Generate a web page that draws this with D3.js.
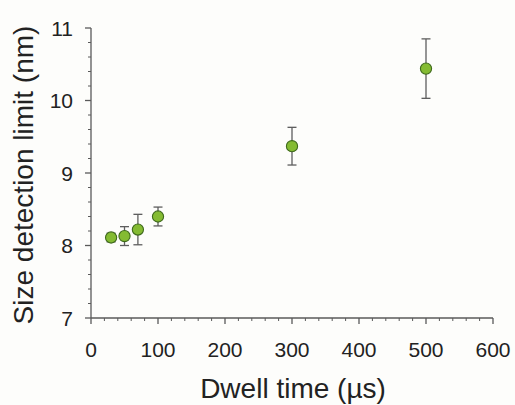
<!DOCTYPE html>
<html>
<head>
<meta charset="utf-8">
<script src="https://cdn.jsdelivr.net/npm/d3@7"></script>
<style>
  html, body { margin: 0; padding: 0; background: #fdfdfb; }
  svg { display: block; font-family: "Liberation Sans", Arial, sans-serif; }
</style>
</head>
<body>
<svg id="chart" width="515" height="405"></svg>
<script>
// Dwell time (µs) and measured size detection limit (nm) with error bars
const dwellTimes = [30, 50, 70, 100, 300, 500];
const detectionLimits = [8.11, 8.13, 8.22, 8.40, 9.37, 10.44];
const errors = [0.06, 0.13, 0.21, 0.13, 0.26, 0.41];

const xTickValues = [0, 100, 200, 300, 400, 500, 600];
const yTickValues = [7, 8, 9, 10, 11];

const svg = d3.select("#chart");
const axisColor = "#5a5a5a";

const x = d3.scaleLinear().domain([0, 600]).range([91, 493]);
const y = d3.scaleLinear().domain([7, 11]).range([318, 28]);

// minor ticks
const xMinor = d3.range(0, 601, 20).filter(v => v % 100 !== 0);
const yMinor = d3.range(7, 11.001, 0.2).filter(v => Math.abs(v - Math.round(v)) > 1e-6);

const gx = svg.append("g").attr("transform", `translate(0,${y(7)})`);
gx.append("line").attr("x1", x(0)).attr("x2", x(600)).attr("stroke", axisColor).attr("stroke-width", 1.3);
gx.selectAll("line.minor").data(xMinor).join("line").attr("class", "minor")
  .attr("x1", d => x(d)).attr("x2", d => x(d)).attr("y1", 0).attr("y2", 3)
  .attr("stroke", axisColor).attr("stroke-width", 1);
gx.selectAll("line.major").data(xTickValues).join("line").attr("class", "major")
  .attr("x1", d => x(d)).attr("x2", d => x(d)).attr("y1", 0).attr("y2", 6)
  .attr("stroke", axisColor).attr("stroke-width", 1.3);
gx.selectAll("text").data(xTickValues).join("text")
  .attr("x", d => x(d)).attr("y", 39)
  .attr("text-anchor", "middle").attr("font-size", 21).attr("fill", "#222")
  .text(d => d);

const gy = svg.append("g").attr("transform", `translate(${x(0)},0)`);
gy.append("line").attr("y1", y(7)).attr("y2", y(11)).attr("stroke", axisColor).attr("stroke-width", 1.3);
gy.selectAll("line.minor").data(yMinor).join("line").attr("class", "minor")
  .attr("y1", d => y(d)).attr("y2", d => y(d)).attr("x1", -3).attr("x2", 0)
  .attr("stroke", axisColor).attr("stroke-width", 1);
gy.selectAll("line.major").data(yTickValues).join("line").attr("class", "major")
  .attr("y1", d => y(d)).attr("y2", d => y(d)).attr("x1", -6).attr("x2", 0)
  .attr("stroke", axisColor).attr("stroke-width", 1.3);
gy.selectAll("text").data(yTickValues).join("text")
  .attr("x", -18).attr("y", d => y(d)).attr("dy", "0.36em")
  .attr("text-anchor", "end").attr("font-size", 21).attr("fill", "#222")
  .text(d => d);

// axis titles
svg.append("text")
  .attr("x", 293).attr("y", 398)
  .attr("text-anchor", "middle").attr("font-size", 28).attr("fill", "#222")
  .text("Dwell time (µs)");
svg.append("text")
  .attr("transform", "translate(33,175) rotate(-90)")
  .attr("text-anchor", "middle").attr("font-size", 28).attr("fill", "#222")
  .text("Size detection limit (nm)");

// error bars and points
const pts = dwellTimes.map((t, i) => ({ t, v: detectionLimits[i], e: errors[i] }));
const eb = svg.append("g").attr("stroke", "#5e5e5e").attr("stroke-width", 1.3);
pts.forEach(p => {
  const cx = x(p.t), top = y(p.v + p.e), bot = y(p.v - p.e);
  eb.append("line").attr("x1", cx).attr("x2", cx).attr("y1", top).attr("y2", bot);
  eb.append("line").attr("x1", cx - 4.5).attr("x2", cx + 4.5).attr("y1", top).attr("y2", top);
  eb.append("line").attr("x1", cx - 4.5).attr("x2", cx + 4.5).attr("y1", bot).attr("y2", bot);
});
svg.append("g").selectAll("circle").data(pts).join("circle")
  .attr("cx", d => x(d.t)).attr("cy", d => y(d.v)).attr("r", 5.6)
  .attr("fill", "#84bb32").attr("stroke", "#3f6a1c").attr("stroke-width", 1.1);
</script>
</body>
</html>
